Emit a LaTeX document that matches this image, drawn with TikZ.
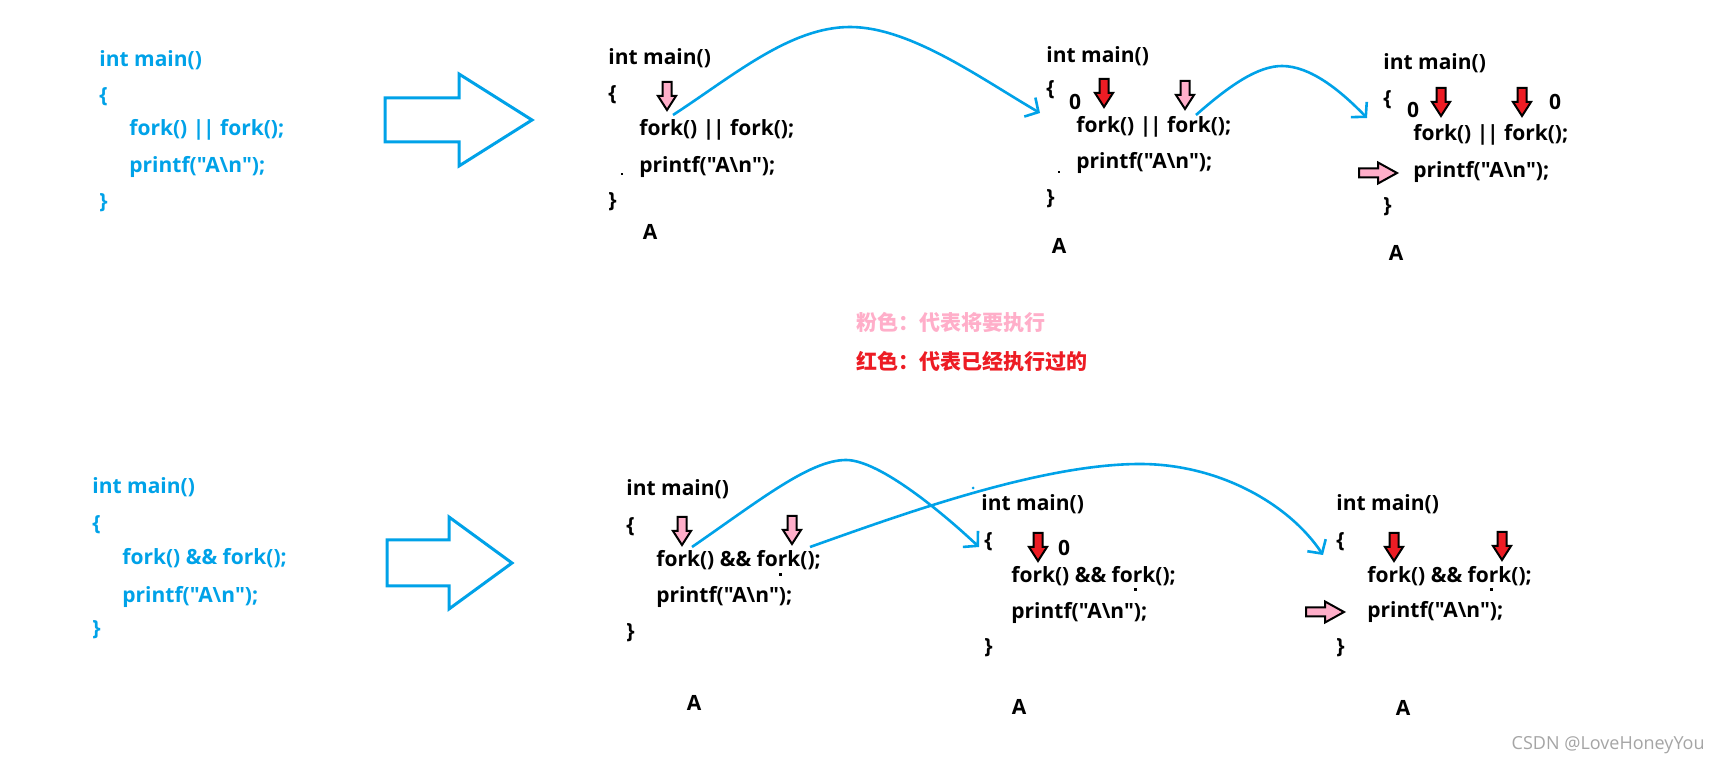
\documentclass[tikz,border=0pt]{standalone}
\usepackage{fontspec}
\newfontfamily\codefont{Open Sans}
\newfontfamily\cjk{Noto Sans CJK SC}
\usetikzlibrary{arrows.meta}
\definecolor{pblue}{RGB}{0,162,232}
\definecolor{ppink}{RGB}{255,174,201}
\definecolor{pred}{RGB}{237,28,36}
\definecolor{wgray}{RGB}{165,165,165}
\newcommand{\bs}{\textbackslash}
\newcommand{\orbar}{|\kern-0.6pt|}
\begin{document}
\begin{tikzpicture}[x=0.5pt,y=-0.5pt,
  codetxt/.style={anchor=west,inner sep=0pt,font=\codefont\fontsize{10.5}{12}\selectfont\bfseries},
  bluetxt/.style={codetxt,text=pblue},
  lbl/.style={inner sep=0pt,font=\codefont\fontsize{10.5}{12}\selectfont\bfseries},
  legend/.style={anchor=west,inner sep=0pt,font=\cjk\fontsize{10.5}{12}\selectfont\bfseries},
  flow/.style={draw=pblue,line width=1.3pt,-{Straight Barb[length=5pt,width=11pt]}},
  bigarrow/.style={draw=pblue,line width=1.5pt,line join=miter},
  tinydot/.style={fill=black},
  pics/downarr/.style={code={\draw[line width=1pt,fill=#1] (-4.5,0)--(4.5,0)--(4.5,14)--(9,14)--(0,28)--(-9,14)--(-4.5,14)--cycle;}},
  pics/rightarr/.style={code={\draw[line width=1pt,fill=#1] (0,-4.5)--(19,-4.5)--(19,-10.5)--(38,0)--(19,10.5)--(19,4.5)--(0,4.5)--cycle;}}
]
\path[use as bounding box,fill=white] (0,0) rectangle (1720,764);

% ---------- top-left source ----------
\node[bluetxt] (tl1) at (99,60) {int main()};
\node[bluetxt] (tl2) at (99,97) {\{};
\node[bluetxt] (tl3) at (129,130) {fork() \orbar{} fork();};
\node[bluetxt] (tl4) at (129,167) {printf("A\bs n");};
\node[bluetxt] (tl5) at (99,203) {\}};
\draw[bigarrow] (385,98) -- (459,98) -- (459,74) -- (532,120) -- (459,166) -- (459,142) -- (385,142) -- cycle;

% ---------- bottom-left source ----------
\node[bluetxt] (bl1) at (92,487) {int main()};
\node[bluetxt] (bl2) at (92,525) {\{};
\node[bluetxt] (bl3) at (122,558) {fork() \&\& fork();};
\node[bluetxt] (bl4) at (122,597) {printf("A\bs n");};
\node[bluetxt] (bl5) at (92,630) {\}};
\draw[bigarrow] (387,540) -- (449,540) -- (449,517) -- (512,563) -- (449,609) -- (449,586) -- (387,586) -- cycle;

% ---------- A1 ----------
\node[codetxt] (a1m) at (608,58) {int main()};
\node[codetxt] (a1o) at (608,95) {\{};
\node[codetxt] (a1f) at (639,130) {fork() \orbar{} fork();};
\node[codetxt] (a1p) at (639,167) {printf("A\bs n");};
\node[codetxt] (a1c) at (608,202) {\}};
\node[lbl] (a1A) at (650,232) {A};
\pic at (667,82) {downarr=ppink};
\fill[tinydot] (621,173) rectangle (623,175);

% ---------- A2 ----------
\node[codetxt] (a2m) at (1046,56) {int main()};
\node[codetxt] (a2o) at (1046,90) {\{};
\node[lbl] (a2z) at (1075,102) {0};
\node[codetxt] (a2f) at (1076,127) {fork() \orbar{} fork();};
\node[codetxt] (a2p) at (1076,163) {printf("A\bs n");};
\node[codetxt] (a2c) at (1046,199) {\}};
\node[lbl] (a2A) at (1059,246) {A};
\pic at (1104,79) {downarr=pred};
\pic at (1185,81) {downarr=ppink};
\fill[tinydot] (1058,171) rectangle (1060,173);

% ---------- A3 ----------
\node[codetxt] (a3m) at (1383,63) {int main()};
\node[codetxt] (a3o) at (1383,100) {\{};
\node[lbl] (a3z) at (1413,110) {0};
\node[lbl] (a3z2) at (1555,102) {0};
\node[codetxt] (a3f) at (1413,135) {fork() \orbar{} fork();};
\node[codetxt] (a3p) at (1413,172) {printf("A\bs n");};
\node[codetxt] (a3c) at (1383,207) {\}};
\node[lbl] (a3A) at (1396,253) {A};
\pic at (1441,88) {downarr=pred};
\pic at (1522,88) {downarr=pred};
\pic at (1359,173) {rightarr=ppink};

% ---------- top curves ----------
\coordinate (t1s) at (673,115);
\coordinate (t1p) at (850,27);
\coordinate (t1e) at (1040,113);
\draw[flow] (t1s) .. controls (733,76) and (790,27) .. (t1p) .. controls (910,27) and (980,78) .. (t1e);
\coordinate (t2s) at (1196,115);
\coordinate (t2p) at (1282,66);
\coordinate (t2e) at (1367,118);
\draw[flow] (t2s) .. controls (1230,85) and (1258,66) .. (t2p) .. controls (1310,66) and (1340,90) .. (t2e);

% ---------- legend ----------
\node[legend,text=ppink] (lg1) at (856,323) {粉色：代表将要执行};
\node[legend,text=pred] (lg2) at (856,362) {红色：代表已经执行过的};

% ---------- B1 ----------
\node[codetxt] (b1m) at (626,489) {int main()};
\node[codetxt] (b1o) at (626,527) {\{};
\node[codetxt] (b1f) at (656,560) {fork() \&\& fork();};
\node[codetxt] (b1p) at (656,597) {printf("A\bs n");};
\node[codetxt] (b1c) at (626,633) {\}};
\node[lbl] (b1A) at (694,703) {A};
\pic at (682,517) {downarr=ppink};
\pic at (792,516) {downarr=ppink};
\fill[tinydot] (779,573) rectangle (782,576);

% ---------- B2 ----------
\node[codetxt] (b2m) at (981,504) {int main()};
\node[codetxt] (b2o) at (984,542) {\{};
\node[lbl] (b2z) at (1064,548) {0};
\node[codetxt] (b2f) at (1011,576) {fork() \&\& fork();};
\node[codetxt] (b2p) at (1011,613) {printf("A\bs n");};
\node[codetxt] (b2c) at (984,648) {\}};
\node[lbl] (b2A) at (1019,707) {A};
\pic at (1038,533) {downarr=pred};
\fill[tinydot] (1134,588) rectangle (1137,591);

% ---------- B3 ----------
\node[codetxt] (b3m) at (1336,504) {int main()};
\node[codetxt] (b3o) at (1336,542) {\{};
\node[codetxt] (b3f) at (1367,576) {fork() \&\& fork();};
\node[codetxt] (b3p) at (1367,612) {printf("A\bs n");};
\node[codetxt] (b3c) at (1336,648) {\}};
\node[lbl] (b3A) at (1403,708) {A};
\pic at (1394,533) {downarr=pred};
\pic at (1502,532) {downarr=pred};
\pic at (1306,612) {rightarr=ppink};
\fill[tinydot] (1490,588) rectangle (1493,591);

% ---------- bottom curves ----------
\coordinate (u1s) at (692,547);
\coordinate (u1p) at (846,460);
\coordinate (u1e) at (979,547);
\draw[flow] (u1s) .. controls (760,500) and (810,460) .. (u1p) .. controls (880,460) and (945,515) .. (u1e);
\coordinate (u2s) at (810,547);
\coordinate (u2p) at (1140,464);
\coordinate (u2e) at (1323,555);
\draw[flow] (u2s) .. controls (900,515) and (1040,464) .. (u2p) .. controls (1220,464) and (1290,505) .. (u2e);
\fill[pblue] (973,488) circle (1.5);

% ---------- watermark ----------
\node[anchor=east,inner sep=0pt,text=wgray,font=\codefont\fontsize{9}{10}\selectfont] (wm) at (1705,745) {CSDN @LoveHoneyYou};
\end{tikzpicture}
\end{document}
